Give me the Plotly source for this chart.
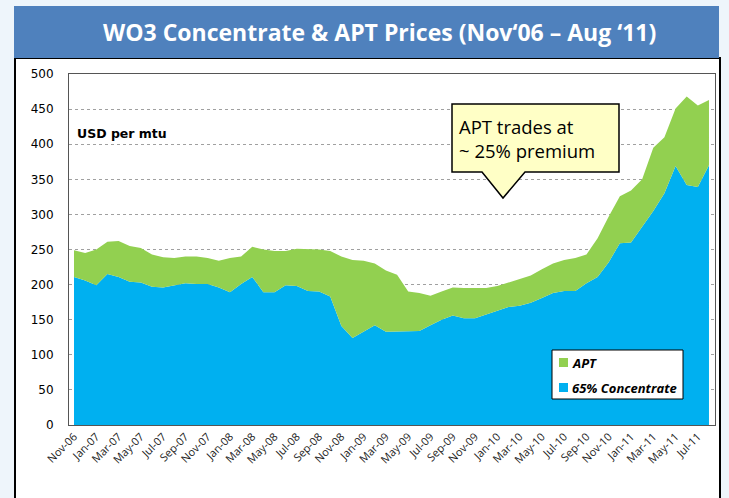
import plotly.graph_objects as go

months = ["Nov-06","Dec-06","Jan-07","Feb-07","Mar-07","Apr-07","May-07","Jun-07","Jul-07","Aug-07",
          "Sep-07","Oct-07","Nov-07","Dec-07","Jan-08","Feb-08","Mar-08","Apr-08","May-08","Jun-08",
          "Jul-08","Aug-08","Sep-08","Oct-08","Nov-08","Dec-08","Jan-09","Feb-09","Mar-09","Apr-09",
          "May-09","Jun-09","Jul-09","Aug-09","Sep-09","Oct-09","Nov-09","Dec-09","Jan-10","Feb-10",
          "Mar-10","Apr-10","May-10","Jun-10","Jul-10","Aug-10","Sep-10","Oct-10","Nov-10","Dec-10",
          "Jan-11","Feb-11","Mar-11","Apr-11","May-11","Jun-11","Jul-11","Aug-11"]

apt = [249, 245, 250, 261, 262, 255, 252, 243, 239, 238,
       240, 240, 238, 234, 238, 240, 254, 250, 248, 248,
       251, 251, 250, 248, 240, 235, 234, 230, 220, 214,
       190, 188, 184, 190, 196, 195, 195, 195, 198, 203,
       207, 213, 222, 230, 235, 238, 243, 266, 297, 326,
       334, 350, 395, 410, 451, 468, 455, 463]

conc = [211, 206, 199, 215, 211, 204, 203, 197, 196, 199,
        202, 201, 201, 196, 189, 201, 211, 189, 189, 199,
        198, 191, 190, 183, 141, 124, 133, 142, 133, 133,
        133, 134, 142, 150, 156, 152, 152, 157, 163, 168,
        170, 174, 181, 188, 191, 191, 202, 211, 232, 259,
        260, 282, 305, 330, 369, 342, 339, 370]

series_names = ["APT", "65% Concentrate"]

tick_idx = list(range(0, len(months), 2))
tick_text = [months[i] for i in tick_idx]
xs = list(range(len(months)))

BLUE = "#00B0F0"
GREEN = "#92D050"

W, H = 729, 498
L, R, T, B = 69, 715, 74, 425


def px(x):
    return (x - L) / (R - L)


def py(y):
    return (B - y) / (B - T)


fig = go.Figure()
fig.add_trace(go.Scatter(x=xs, y=conc, mode="lines", line=dict(width=0, color=BLUE),
                         fill="tozeroy", fillcolor=BLUE, name=series_names[1],
                         showlegend=False, hoverinfo="skip"))
fig.add_trace(go.Scatter(x=xs, y=apt, mode="lines", line=dict(width=0, color=GREEN),
                         fill="tonexty", fillcolor=GREEN, name=series_names[0],
                         showlegend=False, hoverinfo="skip"))

shapes = [
    # chart box
    dict(type="rect", xref="paper", yref="paper", x0=px(15), x1=px(720), y0=py(510), y1=py(58),
         fillcolor="white", line=dict(color="black", width=2), layer="below"),
    # title bar
    dict(type="rect", xref="paper", yref="paper", x0=px(14), x1=px(719), y0=py(58), y1=py(6),
         fillcolor="#4F81BD", line=dict(width=0), layer="below"),
    # legend box
    dict(type="rect", xref="paper", yref="paper", x0=px(552), x1=px(683), y0=py(399), y1=py(350),
         fillcolor="white", line=dict(color="black", width=1), layer="above"),
    dict(type="rect", xref="paper", yref="paper", x0=px(559), x1=px(568), y0=py(367), y1=py(358),
         fillcolor=GREEN, line=dict(width=0), layer="above"),
    dict(type="rect", xref="paper", yref="paper", x0=px(559), x1=px(568), y0=py(392), y1=py(383),
         fillcolor=BLUE, line=dict(width=0), layer="above"),
]

# callout
pts = [(452, 104), (619, 104), (619, 172), (525, 172), (503, 198), (482, 172), (452, 172)]
path = "M " + " L ".join(f"{px(a):.5f},{py(b):.5f}" for a, b in pts) + " Z"
shapes.append(dict(type="path", xref="paper", yref="paper", path=path,
                   fillcolor="#FFFFC6", line=dict(color="black", width=1.5), layer="above"))

annotations = [
    dict(text="<b>WO3 Concentrate & APT Prices (Nov‘06 – Aug ‘11)</b>", xref="paper", yref="paper",
         x=px(379), y=py(32), xanchor="center", yanchor="middle", showarrow=False,
         font=dict(family="Open Sans", size=23, color="white")),
    dict(text="<b>USD per mtu</b>", xref="paper", yref="paper", x=px(75), y=py(133),
         xanchor="left", yanchor="middle", showarrow=False,
         font=dict(family="DejaVu Sans", size=12.5, color="black")),
    dict(text="APT trades at<br>~ 25% premium", xref="paper", yref="paper", x=px(457), y=py(138),
         xanchor="left", yanchor="middle", align="left", showarrow=False,
         font=dict(family="Open Sans", size=18.5, color="black")),
    dict(text=f"<b><i>{series_names[0]}</i></b>", xref="paper", yref="paper", x=px(570), y=py(363),
         xanchor="left", yanchor="middle", showarrow=False,
         font=dict(family="Open Sans", size=13, color="black")),
    dict(text=f"<b><i>{series_names[1]}</i></b>", xref="paper", yref="paper", x=px(570), y=py(388),
         xanchor="left", yanchor="middle", showarrow=False,
         font=dict(family="Open Sans", size=13, color="black")),
]

fig.update_layout(
    width=W, height=H,
    margin=dict(l=L, r=W - R, t=T, b=H - B),
    paper_bgcolor="#EEF5FB",
    plot_bgcolor="white",
    shapes=shapes,
    annotations=annotations,
    showlegend=False,
    xaxis=dict(range=[-0.45, 57.54], tickmode="array", tickvals=tick_idx, ticktext=tick_text,
               tickangle=-45, showgrid=False, zeroline=False, showline=True, mirror=True,
               linecolor="#555555", linewidth=1, ticks="",
               tickfont=dict(family="Open Sans", size=11, color="#222222")),
    yaxis=dict(range=[0, 500], dtick=50, showgrid=True, gridcolor="#A0A0A0", griddash="dot",
               gridwidth=1, zeroline=False, showline=True, mirror=True, linecolor="#555555",
               linewidth=1, ticks="", ticklabelstandoff=12,
               tickfont=dict(family="DejaVu Sans", size=12, color="black")),
)

fig.write_html("out.html", config={"displayModeBar": False},
               post_script="document.body.style.margin='0';")
